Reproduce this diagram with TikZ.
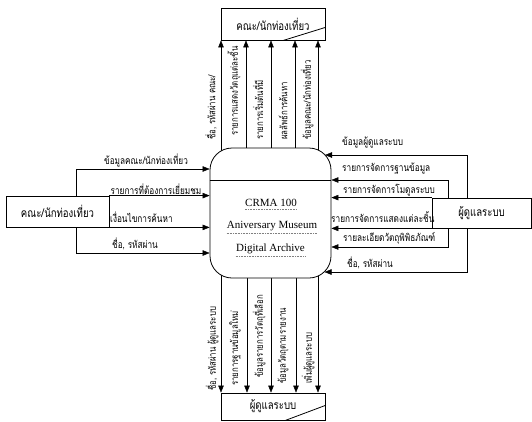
\documentclass[tikz,border=0pt]{standalone}
\usepackage{fontspec}
\setmainfont{Liberation Serif}
\newfontfamily\thai[Script=Thai,FakeStretch=0.8]{Loma}
\usetikzlibrary{arrows.meta,backgrounds}
\begin{document}
\begin{tikzpicture}[x=1pt,y=-1pt,line width=0.8pt,
  arr/.style={-{Triangle[length=7pt,width=5.5pt]}},
  ent/.style={draw,fill=white,inner sep=0pt,font=\thai\fontsize{12}{14}\selectfont},
  lab/.style={inner sep=0pt,font=\thai\fontsize{10.3}{11}\selectfont},
  vlab/.style={inner sep=0pt,font=\thai\fontsize{9.8}{11}\selectfont,rotate=90,anchor=west},
  ptext/.style={inner sep=0pt,font=\fontsize{11}{13}\selectfont},
  squig/.style={draw=gray,densely dotted,line width=0.6pt}]
\useasboundingbox (0,0) rectangle (532,421);

% entities and process
\node[ent,minimum width=104pt,minimum height=32pt] (ttop) at (273,24) {คณะ/นักท่องเที่ยว};
\node[ent,minimum width=104pt,minimum height=27pt] (tbot) at (273,406.5) {ผู้ดูแลระบบ};
\node[ent,minimum width=103pt,minimum height=31pt] (lent) at (57.5,211.5) {คณะ/นักท่องเที่ยว};
\node[ent,minimum width=99pt,minimum height=30pt] (rent) at (481.5,213) {ผู้ดูแลระบบ};
\node[draw,fill=white,rounded corners=22pt,minimum width=121pt,minimum height=130pt,inner sep=0pt] (proc) at (270.5,213) {};

\draw ([xshift=-42pt]ttop.south east) -- ([yshift=13pt]ttop.south east);
\draw ([xshift=-40pt]tbot.south east) -- ([yshift=15pt]tbot.south east);

\node[ptext] (p1) at (271,203) {CRMA 100};
\node[ptext] (p2) at (272,226) {Aniversary Museum};
\node[ptext] (p3) at (270.5,249) {Digital Archive};
\draw[squig] ([yshift=-2pt]p1.south west) -- ([yshift=-2pt]p1.south east);
\draw[squig] ([yshift=-2pt]p2.south west) -- ([yshift=-2pt]p2.south east);
\draw[squig] ([yshift=-2pt]p3.south west) -- ([yshift=-2pt]p3.south east);

\coordinate (pt) at ([yshift=-14pt]proc.north);
\coordinate (pb) at ([yshift=14pt]proc.south);
\coordinate (pe1) at (325,155);
\coordinate (pe6) at (324.5,272);

\begin{pgfonlayer}{background}
% up to top entity
\foreach \x in {221,246,271,295,318}
  \draw[arr] (pt -| \x,0) -- (ttop.south -| \x,0);
% down to bottom entity
\foreach \x in {221,247,271,296,318}
  \draw[arr] (pb -| \x,0) -- (tbot.north -| \x,0);
% left entity to process
\draw[arr] (lent.north -| 76,0) |- (proc.west |- 0,169);
\draw[arr] (lent.north east) -- (proc.west |- lent.north);
\draw[arr] (lent.south east) -- (proc.west |- lent.south);
\draw[arr] (lent.south -| 76,0) |- (proc.west |- 0,253);
% right entity to process
\draw[arr] (rent.north -| 467,0) |- (pe1);
\draw[arr] (rent.south -| 467,0) |- (pe6);
\draw[arr] (rent.north -| 448,0) |- (proc.east |- 0,180);
\draw[arr] (rent.south -| 448,0) |- (proc.east |- 0,247);
\draw[arr] (rent.north west) -- (proc.east |- rent.north);
\draw[arr] (rent.south west) -- (proc.east |- rent.south);
\end{pgfonlayer}
\draw (proc.west |- 0,180) -- (proc.east |- 0,180);

% left labels
\node[lab] (l1) at (146,161) {ข้อมูลคณะ/นักท่องเที่ยว};
\node[lab] (l2) at (156,189) {รายการที่ต้องการเยี่ยมชม};
\node[lab,anchor=west] (l3) at (110,217) {เงื่อนไขการค้นหา};
\node[lab,anchor=west] (l4) at (112,244) {ชื่อ, รหัสผ่าน};
% right labels
\node[lab,anchor=west] (r1) at (342,143) {ข้อมูลผู้ดูแลระบบ};
\node[lab,anchor=west] (r2) at (342,169) {รายการจัดการฐานข้อมูล};
\node[lab,anchor=west] (r3) at (343,190) {รายการจัดการโมดูลระบบ};
\node[lab,anchor=west] (r4) at (331,217) {รายการจัดการแสดงแต่ละชิ้น};
\node[lab,anchor=west] (r5) at (343,238) {รายละเอียดวัตถุพิพิธภัณฑ์};
\node[lab,anchor=west] (r6) at (347,263) {ชื่อ, รหัสผ่าน};
% top labels
\node[vlab] (t1) at (211,140) {ชื่อ, รหัสผ่าน คณะ/};
\node[vlab] (t2) at (234,136) {รายการแสดงวัตถุแต่ละชิ้น};
\node[vlab] (t3) at (258,140) {รายการเริ่มต้นที่มี};
\node[vlab] (t4) at (283,140) {ผลลัพธ์การค้นหา};
\node[vlab] (t5) at (307,140) {ข้อมูลคณะ/นักท่องเที่ยว};
% bottom labels
\node[vlab] (b1) at (212,391) {ชื่อ, รหัสผ่าน ผู้ดูแลระบบ};
\node[vlab] (b2) at (235,386) {รายการฐานข้อมูลใหม่};
\node[vlab] (b3) at (259,378) {ข้อมูลรายการวัตถุที่เลือก};
\node[vlab] (b4) at (283,384) {ข้อมูลวัตถุตามรายงาน};
\node[vlab] (b5) at (308,384) {เพิ่มผู้ดูแลระบบ};
\end{tikzpicture}
\end{document}
